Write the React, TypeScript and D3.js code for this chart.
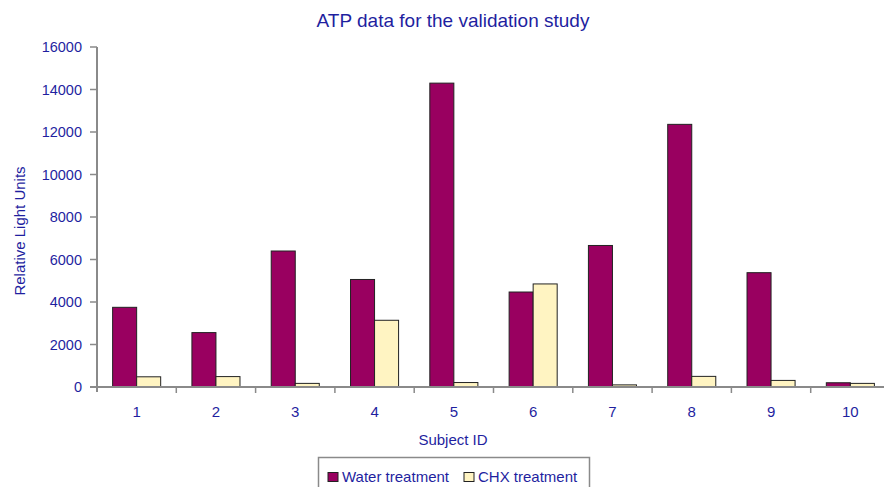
import React from "react";
import * as d3 from "d3";

// subjects on the x axis
const subjects = ["1", "2", "3", "4", "5", "6", "7", "8", "9", "10"];
// Relative Light Units per subject
const waterTreatment = [3750, 2560, 6400, 5060, 14300, 4470, 6660, 12360, 5380, 200];
const chxTreatment = [480, 490, 170, 3140, 210, 4850, 100, 500, 310, 170];
const seriesNames = ["Water treatment", "CHX treatment"];
const yTicks = [0, 2000, 4000, 6000, 8000, 10000, 12000, 14000, 16000];

const W = 884, H = 487;
const margin = { top: 47, left: 97, right: -6, bottom: 100 };
const textColor = "#1f1f9f";
const axisColor = "#8a8a8a";
const colors = ["#990060", "#fff4c2"];
const font = "Arial, 'Liberation Sans', sans-serif";

const App = () => {
  const x = d3.scaleBand<string>()
    .domain(subjects)
    .range([margin.left, W - margin.right]);

  const inner = d3.scaleBand<number>()
    .domain([0, 1])
    .range([0, x.bandwidth()])
    .paddingInner(0)
    .paddingOuter(0.65);

  const y = d3.scaleLinear()
    .domain([0, 16000])
    .range([H - margin.bottom, margin.top]);

  const series = [waterTreatment, chxTreatment];
  const y0 = y(0);

  return (
    <svg width={W} height={H} style={{ position: "absolute", left: 0, top: 0, background: "#fff" }}
      fontFamily={font}>
      {/* title */}
      <text x={453} y={27} textAnchor="middle" fontSize={19} fill={textColor}>
        ATP data for the validation study
      </text>

      {/* bars */}
      {series.map((vals, s) => (
        <g key={s} fill={colors[s]} stroke="#222" strokeWidth={1}>
          {vals.map((v, i) => (
            <rect key={i}
              x={(x(subjects[i]) ?? 0) + (inner(s) ?? 0)}
              y={y(v)}
              width={inner.bandwidth()}
              height={y0 - y(v)} />
          ))}
        </g>
      ))}

      {/* y axis */}
      <line x1={margin.left} x2={margin.left} y1={y(16000)} y2={y0 + 5} stroke={axisColor} strokeWidth={2} />
      {yTicks.map(t => (
        <g key={t}>
          <line x1={margin.left - 7} x2={margin.left} y1={y(t)} y2={y(t)} stroke={axisColor} strokeWidth={1.5} />
          <text x={82} y={y(t)} dy="0.36em" textAnchor="end" fontSize={14.5} fill={textColor}>{t}</text>
        </g>
      ))}

      {/* x axis */}
      <line x1={margin.left - 7} x2={W} y1={y0} y2={y0} stroke={axisColor} strokeWidth={2} />
      {subjects.map((d, i) => (
        <g key={d}>
          {i > 0 && <line x1={x(d)} x2={x(d)} y1={y0} y2={y0 + 6} stroke={axisColor} strokeWidth={1.5} />}
          <text x={(x(d) ?? 0) + x.bandwidth() / 2} y={417} textAnchor="middle" fontSize={15} fill={textColor}>{d}</text>
        </g>
      ))}

      {/* axis titles */}
      <text x={453} y={445} textAnchor="middle" fontSize={15} fill={textColor}>Subject ID</text>
      <text transform="translate(25,231) rotate(-90)" textAnchor="middle" fontSize={15} fill={textColor}>
        Relative Light Units
      </text>

      {/* legend */}
      <rect x={318.5} y={457.5} width={271} height={40} fill="#fff" stroke={axisColor} strokeWidth={1.5} />
      {seriesNames.map((name, s) => {
        const lx = s === 0 ? 328 : 464;
        return (
          <g key={name}>
            <rect x={lx} y={472.5} width={10} height={9} fill={colors[s]} stroke="#222" strokeWidth={1} />
            <text x={lx + 14} y={481.5} fontSize={15} fill={textColor}>{name}</text>
          </g>
        );
      })}
    </svg>
  );
};

export default App;
